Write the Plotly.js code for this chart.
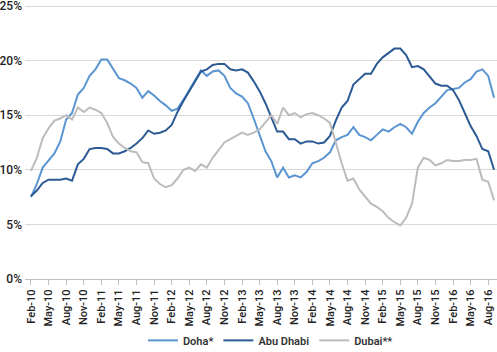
<!DOCTYPE html>
<html><head><meta charset="utf-8">
<script src="https://cdn.plot.ly/plotly-3.0.1.min.js"></script>
<style>html,body{margin:0;padding:0;background:#fff;overflow:hidden;}#chart{width:497px;height:376px;margin-top:-24px;}</style>
</head><body><div id="chart"></div>
<script>
const months = [
 "Feb-10","Mar-10","Apr-10","May-10","Jun-10","Jul-10","Aug-10","Sep-10","Oct-10","Nov-10","Dec-10",
 "Jan-11","Feb-11","Mar-11","Apr-11","May-11","Jun-11","Jul-11","Aug-11","Sep-11","Oct-11","Nov-11","Dec-11",
 "Jan-12","Feb-12","Mar-12","Apr-12","May-12","Jun-12","Jul-12","Aug-12","Sep-12","Oct-12","Nov-12","Dec-12",
 "Jan-13","Feb-13","Mar-13","Apr-13","May-13","Jun-13","Jul-13","Aug-13","Sep-13","Oct-13","Nov-13","Dec-13",
 "Jan-14","Feb-14","Mar-14","Apr-14","May-14","Jun-14","Jul-14","Aug-14","Sep-14","Oct-14","Nov-14","Dec-14",
 "Jan-15","Feb-15","Mar-15","Apr-15","May-15","Jun-15","Jul-15","Aug-15","Sep-15","Oct-15","Nov-15","Dec-15",
 "Jan-16","Feb-16","Mar-16","Apr-16","May-16","Jun-16","Jul-16","Aug-16","Sep-16"
];
const tickLabels = ["Feb-10","May-10","Aug-10","Nov-10","Feb-11","May-11","Aug-11","Nov-11","Feb-12","May-12","Aug-12","Nov-12",
 "Feb-13","May-13","Aug-13","Nov-13","Feb-14","May-14","Aug-14","Nov-14","Feb-15","May-15","Aug-15","Nov-15","Feb-16","May-16","Aug-16"];
const seriesNames = ["Doha*","Abu Dhabi","Dubai**"];
const doha = [7.5,8.7,10.2,10.9,11.5,12.6,14.6,15.2,16.9,17.5,18.6,19.2,20.1,20.1,19.2,18.4,18.2,17.9,17.5,16.6,
 17.2,16.8,16.3,15.9,15.4,15.6,16.4,17.3,18.2,19.1,18.6,19.0,19.1,18.6,17.5,17.0,16.7,16.1,14.7,13.1,
 11.7,10.8,9.3,10.2,9.3,9.5,9.3,9.8,10.6,10.8,11.1,11.6,12.7,13.0,13.2,13.9,13.2,13.0,12.7,13.2,
 13.7,13.5,13.9,14.2,13.9,13.3,14.4,15.2,15.7,16.1,16.7,17.3,17.4,17.5,18.0,18.3,19.0,19.2,18.6,16.6];
const abuDhabi = [7.6,8.1,8.8,9.1,9.1,9.1,9.2,9.0,10.5,11.0,11.9,12.0,12.0,11.9,11.5,11.5,11.7,12.0,12.4,12.9,
 13.6,13.3,13.4,13.6,14.1,15.3,16.3,17.2,18.1,19.0,19.2,19.6,19.7,19.7,19.2,19.1,19.2,18.9,18.1,17.2,
 16.1,14.8,13.5,13.5,12.8,12.8,12.4,12.6,12.6,12.4,12.5,13.1,14.5,15.7,16.3,17.8,18.3,18.8,18.8,19.7,
 20.3,20.7,21.1,21.1,20.5,19.4,19.5,19.2,18.6,17.9,17.7,17.7,17.3,16.4,15.2,14.0,13.1,11.9,11.7,10.0];
const dubai = [9.9,11.1,12.9,13.8,14.5,14.7,15.0,14.6,15.7,15.3,15.7,15.5,15.2,14.3,13.0,12.4,12.0,11.7,11.6,10.7,
 10.6,9.2,8.7,8.4,8.6,9.2,10.0,10.2,9.9,10.5,10.2,11.1,11.8,12.5,12.8,13.1,13.4,13.2,13.4,13.7,
 14.4,15.0,14.2,15.7,15.0,15.2,14.8,15.1,15.2,15.0,14.7,14.3,12.5,10.6,9.0,9.2,8.2,7.5,6.9,6.6,
 6.2,5.6,5.2,4.9,5.6,6.9,10.2,11.1,10.9,10.4,10.6,10.9,10.8,10.8,10.9,10.9,11.0,9.1,8.9,7.2];

const colors = ["#5b95d1","#2c5a94","#bcbcbc"];
const values = [doha, abuDhabi, dubai];
const traces = values.map((v,k)=>({
  type:"scatter", mode:"lines", x: months, y: v, name: seriesNames[k],
  line:{color:colors[k], width:2}, hoverinfo:"skip"
}));

const layout = {
  width:497, height:376,
  margin:{l:25, r:0, t:24, b:73, autoexpand:false},
  paper_bgcolor:"#fff", plot_bgcolor:"#fff",
  font:{family:"Roboto, 'Open Sans', sans-serif", size:11, color:"#222"},
  showlegend:true,
  legend:{orientation:"h", x:0.52, xanchor:"center", y:-0.22, yanchor:"middle",
    font:{size:11, weight:600, color:"#333"}, itemwidth:30, tracegroupgap:0},
  xaxis:{type:"category", range:[-1.02, 79.5], tickmode:"array", tickvals:tickLabels, ticktext:tickLabels,
    tickangle:-90, ticks:"outside", ticklen:5, tickcolor:"#bfbfbf", showgrid:false,
    showline:true, linecolor:"#bfbfbf", linewidth:1, zeroline:false,
    tickfont:{size:11, weight:500, color:"#222"}, fixedrange:true},
  yaxis:{range:[0,25.55], autorange:false, tickmode:"linear", tick0:0, dtick:5, ticksuffix:"%",
    showgrid:true, gridcolor:"#d9d9d9", gridwidth:1, zeroline:false, showline:false,
    ticks:"", ticklabelstandoff:2, tickfont:{size:12, weight:500, color:"#222"}, fixedrange:true}
};
Plotly.newPlot("chart", traces, layout, {staticPlot:true, displayModeBar:false});
</script></body></html>
